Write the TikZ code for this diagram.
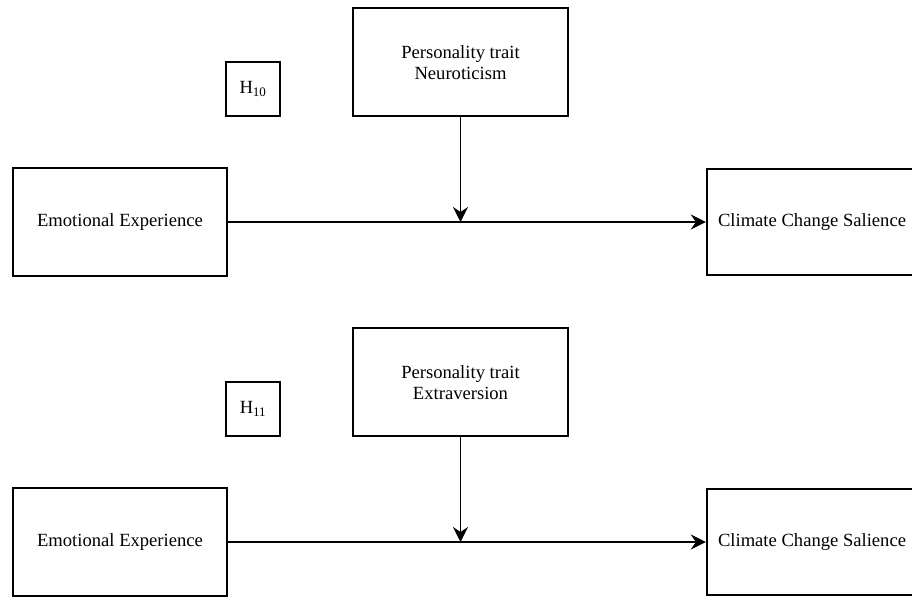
\documentclass[tikz,border=0pt]{standalone}
\usepackage{fontspec}
\setmainfont{Liberation Serif}
\usetikzlibrary{arrows.meta, calc, positioning}
\tikzset{
  var/.style={draw, line width=2.3pt, inner sep=0pt, align=center, font=\fontsize{18.6}{21}\selectfont},
  hyp/.style={var, minimum width=54, minimum height=54},
  arr/.style={line width=1.9pt, -{Stealth[length=15pt,width=15pt,inset=5pt]}}
}

\begin{document}
\begin{tikzpicture}[x=1pt,y=-1pt]
\useasboundingbox (0,0) rectangle (912,597);
\clip (0,0) rectangle (912,597);
\fill[white] (0,0) rectangle (912,597);
% two moderation panels
\foreach \dy/\trait/\hnum in {0/Neuroticism/10, 320/Extraversion/11} {
\begin{scope}[shift={(0,\dy)}]
\node[var, minimum width=215, minimum height=108] (trait) at (460.5,62.3) {Personality trait\\\trait};
\node[hyp] (h) at (253,89) {H\textsubscript{\hnum}};
\node[var, minimum width=214, minimum height=108] (emo) at (120,222) {Emotional Experience};
\node[var, minimum width=210, minimum height=106] (clim) at (812,222) {Climate Change Salience};
\coordinate (join) at (trait.south |- emo.east);
\draw[arr] (emo) -- (clim);
\draw[arr] (trait) -- (join);
\end{scope}
}
\end{tikzpicture}
\end{document}
